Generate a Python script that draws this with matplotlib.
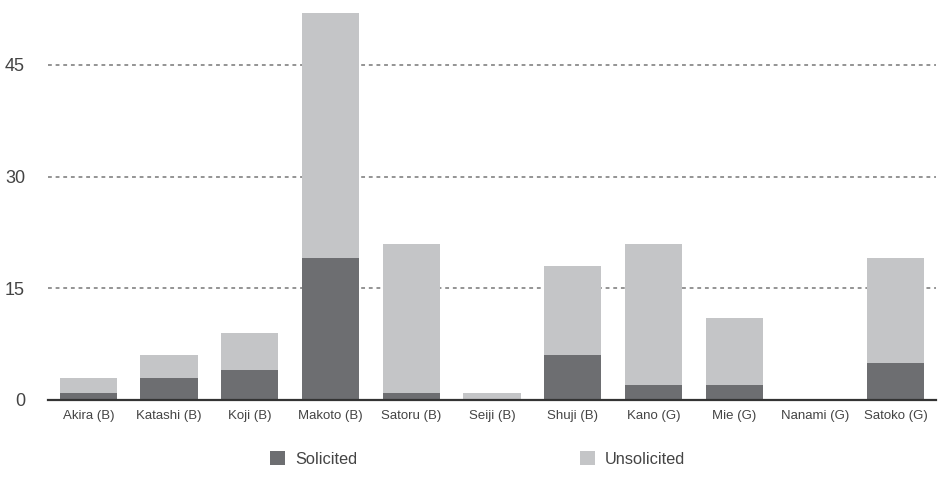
import matplotlib
matplotlib.use("Agg")
import matplotlib.pyplot as plt
from matplotlib.patches import Rectangle
import numpy as np

categories = ["Akira (B)", "Katashi (B)", "Koji (B)", "Makoto (B)", "Satoru (B)",
              "Seiji (B)", "Shuji (B)", "Kano (G)", "Mie (G)", "Nanami (G)", "Satoko (G)"]
solicited = [1, 3, 4, 19, 1, 0, 6, 2, 2, 0, 5]
totals = [3, 6, 9, 52, 21, 1, 18, 21, 11, 0, 19]
unsolicited = [t - s for t, s in zip(totals, solicited)]
yticks = [0, 15, 30, 45]
series_names = ["Solicited", "Unsolicited"]

dark = "#6d6e71"
light = "#c4c5c7"

plt.rcParams['font.family'] = ['Liberation Sans', 'DejaVu Sans']

fig = plt.figure(figsize=(9.4, 4.79), dpi=100)
ax = fig.add_axes([48/940, 1 - 400/479, (936-48)/940, (400-9)/479])

x = np.arange(len(categories))
ax.bar(x, solicited, width=0.71, color=dark, zorder=3)
ax.bar(x, unsolicited, width=0.71, bottom=solicited, color=light, zorder=3)

ax.set_xlim(-0.5, len(categories) - 0.5)
ax.set_ylim(0, 52.5)
ax.set_yticks(yticks)
ax.set_yticklabels([str(v) for v in yticks], fontsize=13, color="#444444")
ax.set_xticks(x)
ax.set_xticklabels(categories, fontsize=9.5, color="#444444")
ax.tick_params(axis='y', length=0, pad=16.5)
ax.tick_params(axis='x', length=0, pad=7.5)

for v in yticks[1:]:
    ax.axhline(v, color="#777777", lw=1.1, ls=(0, (2.5, 2.5)), zorder=1)

for s in ["top", "right", "left"]:
    ax.spines[s].set_visible(False)
ax.spines["bottom"].set_color("#333333")
ax.spines["bottom"].set_linewidth(1.6)
ax.spines["bottom"].set_zorder(4)

# legend
leg_items = [(270, series_names[0], dark), (580, series_names[1], light)]
for px, name, col in leg_items:
    fig.add_artist(Rectangle((px/940, 1 - 465/479), 15/940, 14/479,
                             transform=fig.transFigure, color=col, lw=0))
    fig.text((px + 25)/940, 1 - 459/479, name, fontsize=11.8, color="#444444",
             va="center", ha="left")

fig.savefig("out.png", dpi=100)
